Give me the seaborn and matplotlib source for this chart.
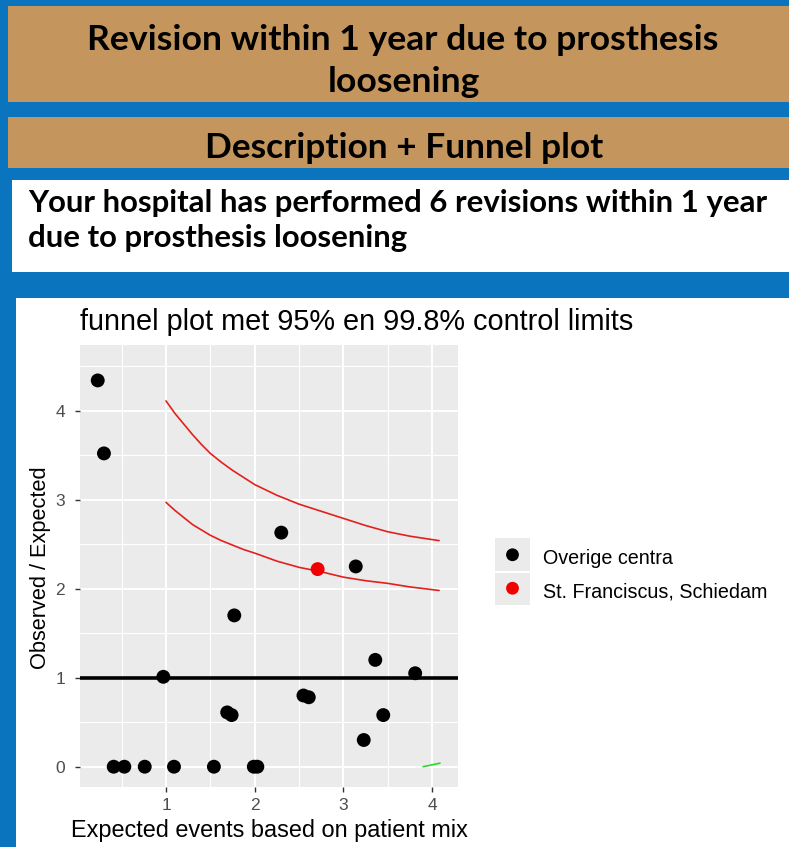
import matplotlib
matplotlib.use("Agg")
import matplotlib.pyplot as plt
from matplotlib.patches import Rectangle
from matplotlib.ticker import MultipleLocator
import pandas as pd
import seaborn as sns

# ---- data ----
# expected events (x) and observed / expected ratio (y) per centre
expected = [0.23, 0.30, 0.41, 0.53, 0.76, 0.97, 1.09, 1.54, 1.69, 1.74, 1.77,
            1.99, 2.03, 2.30, 2.55, 2.61, 3.14, 3.23, 3.36, 3.45, 3.81, 2.71]
obs_exp = [4.34, 3.52, 0.0, 0.0, 0.0, 1.01, 0.0, 0.0, 0.61, 0.58, 1.70,
           0.0, 0.0, 2.63, 0.80, 0.78, 2.25, 0.30, 1.20, 0.58, 1.05, 2.22]
centre = ["Overige centra"] * 21 + ["St. Franciscus, Schiedam"]

# control limits
limit_x = [1.00, 1.10, 1.20, 1.30, 1.40, 1.50, 1.625, 1.75, 1.875, 2.00, 2.25,
           2.50, 2.75, 3.00, 3.25, 3.50, 3.75, 4.08]
upper_998 = [4.11, 3.97, 3.85, 3.73, 3.62, 3.52, 3.42, 3.33, 3.25, 3.17, 3.05,
             2.95, 2.87, 2.79, 2.71, 2.64, 2.59, 2.54]
upper_95 = [2.97, 2.88, 2.80, 2.72, 2.66, 2.60, 2.54, 2.49, 2.44, 2.40, 2.31,
            2.24, 2.19, 2.13, 2.09, 2.06, 2.02, 1.98]
green_x = [3.90, 4.09]
green_y = [0.00, 0.04]

x_ticks = [1, 2, 3, 4]
y_ticks = [0, 1, 2, 3, 4]

W, H = 789, 847
BLUE = "#0B74BF"
TAN = "#C4965E"

sns.set_style("darkgrid", {"axes.facecolor": "#EBEBEB", "grid.color": "white"})
plt.rcParams["font.family"] = ["Liberation Sans", "DejaVu Sans"]

fig = plt.figure(figsize=(W / 100, H / 100), dpi=100, facecolor=BLUE)
renderer = fig.canvas.get_renderer()


def px_box(x0, y0, x1, y1, color):
    fig.add_artist(Rectangle((x0 / W, 1 - y1 / H), (x1 - x0) / W, (y1 - y0) / H,
                             transform=fig.transFigure, facecolor=color,
                             edgecolor="none", zorder=-1))


def px_text(x, y, s, **kw):
    return fig.text(x / W, 1 - y / H, s, **kw)


def fit(t, size_px, vertical=False):
    # scale the font so the text spans the same pixels as in the reference
    bb = t.get_window_extent(renderer)
    cur = bb.height if vertical else bb.width
    t.set_fontsize(t.get_fontsize() * size_px / cur)


# slide background boxes
px_box(8, 6, 789, 102, TAN)
px_box(8, 117, 789, 168, TAN)
px_box(12, 180, 789, 272, "white")
px_box(16, 298, 789, 847, "white")

head = dict(family=["Lato", "DejaVu Sans"], weight="bold", color="black",
            va="baseline", fontsize=20)
t1 = px_text(403, 50, "Revision within 1 year due to prosthesis", ha="center", **head)
fit(t1, 630)
t2 = px_text(404, 92, "loosening", ha="center", **head)
t2.set_fontsize(t1.get_fontsize())
t3 = px_text(404, 158, "Description + Funnel plot", ha="center", **head)
fit(t3, 398)
t4 = px_text(28, 212, "Your hospital has performed 6 revisions within 1 year", ha="left", **head)
fit(t4, 740)
t5 = px_text(28, 247, "due to prosthesis loosening", ha="left", **head)
t5.set_fontsize(t4.get_fontsize())

# ---- funnel plot ----
ax = fig.add_axes([80 / W, 1 - 787 / H, 378 / W, 442 / H])
df = pd.DataFrame({"expected": expected, "ratio": obs_exp, "centre": centre})

ax.axhline(1, color="black", lw=2.6, zorder=2)
sns.lineplot(x=limit_x, y=upper_998, color="#E3201C", lw=1.2, ax=ax, zorder=3)
sns.lineplot(x=limit_x, y=upper_95, color="#E3201C", lw=1.2, ax=ax, zorder=3)
sns.lineplot(x=green_x, y=green_y, color="#2FD62F", lw=1.2, ax=ax, zorder=3)
sns.scatterplot(data=df, x="expected", y="ratio", hue="centre",
                palette={"Overige centra": "black", "St. Franciscus, Schiedam": "#F00000"},
                s=100, linewidth=0, legend=False, ax=ax, zorder=4)

ax.set_xlim(0.03, 4.293)
ax.set_ylim(-0.228, 4.738)
ax.set_xticks(x_ticks)
ax.set_yticks(y_ticks)
ax.xaxis.set_minor_locator(MultipleLocator(0.5))
ax.yaxis.set_minor_locator(MultipleLocator(0.5))
ax.grid(which="major", color="white", lw=1.4)
ax.grid(which="minor", color="white", lw=0.8)
ax.tick_params(which="major", bottom=True, left=True, length=3.5, width=1,
               color="#333333", labelsize=12.5, labelcolor="#4D4D4D")
ax.tick_params(axis="x", pad=4.3)
ax.tick_params(axis="y", pad=7.2)
ax.tick_params(which="minor", length=0)
ax.set_xlabel("")
ax.set_ylabel("")
for sp in ax.spines.values():
    sp.set_visible(False)

title = px_text(80, 330, "funnel plot met 95% en 99.8% control limits",
                ha="left", va="baseline", fontsize=20, color="black")
fit(title, 553)
xlab = px_text(269, 836.7, "Expected events based on patient mix",
               ha="center", va="baseline", fontsize=16, color="black")
fit(xlab, 397)
ylab = px_text(41, 567.5, "Observed / Expected", rotation=90,
               ha="center", va="center", fontsize=16, color="black")
fit(ylab, 204, vertical=True)

# ---- legend (ggplot style keys) ----
lax = fig.add_axes([495 / W, 1 - 605 / H, 35 / W, 67 / H])
lax.set_facecolor("#EBEBEB")
lax.set_xlim(0, 1)
lax.set_ylim(0, 2)
lax.axhline(1, color="white", lw=1.5)
sns.scatterplot(x=[0.5, 0.5], y=[1.5, 0.5], hue=["Overige centra", "St. Franciscus, Schiedam"],
                palette={"Overige centra": "black", "St. Franciscus, Schiedam": "#F00000"},
                s=85, linewidth=0, legend=False, ax=lax)
lax.set_xticks([])
lax.set_yticks([])
lax.grid(False)
for sp in lax.spines.values():
    sp.set_visible(False)

l1 = px_text(543, 563.5, "Overige centra", ha="left", va="baseline", fontsize=14, color="black")
l2 = px_text(543, 597, "St. Franciscus, Schiedam", ha="left", va="baseline", fontsize=14, color="black")
fit(l2, 225)
l1.set_fontsize(l2.get_fontsize())

fig.savefig("out.png", dpi=100, facecolor=BLUE)
